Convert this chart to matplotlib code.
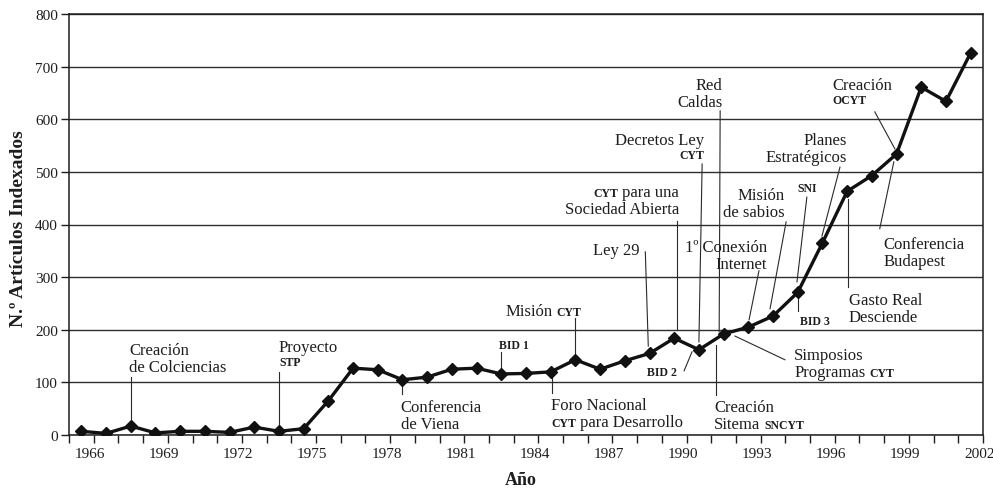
import re
import matplotlib
matplotlib.use("Agg")
import matplotlib.pyplot as plt
from matplotlib.offsetbox import TextArea, HPacker, VPacker, AnnotationBbox

plt.rcParams['font.family'] = ['Liberation Serif', 'DejaVu Serif']

years = list(range(1966, 2003))
articles = [7, 3, 17, 4, 7, 7, 5, 15, 7, 12,
            65, 127, 124, 105, 110, 125, 127, 116, 117, 120,
            143, 125, 141, 155, 184, 162, 192, 205, 226, 271,
            365, 463, 493, 534, 661, 634, 726]
label_years = list(range(1966, 2003, 3))
y_ticks = list(range(0, 801, 100))

# text lines ([..] = small caps), anchor x, anchor y (top), alignment, leader line
notes = [
    (["Creación", "de Colciencias"], 1967.94, 182, 'left', ((1968, 30), (1968, 110))),
    (["Proyecto", "[STP]"], 1974.0, 188, 'left', ((1974, 11), (1974, 120))),
    (["Conferencia", "de Viena"], 1978.93, 74, 'left', ((1979, 78), (1979, 100))),
    (["[BID 1]"], 1982.89, 188, 'left', ((1983, 125), (1983, 158))),
    (["Misión [CYT]"], 1983.17, 257, 'left', ((1986, 152), (1986, 222))),
    (["Foro Nacional", "[CYT] para Desarrollo"], 1985.03, 78, 'left', ((1985.05, 80), (1985.05, 112))),
    (["Ley 29"], 1988.59, 373, 'right', ((1988.83, 348), (1988.95, 169))),
    (["[CYT] para una", "Sociedad Abierta"], 1990.2, 483, 'right', ((1990.1, 407), (1990.1, 202))),
    (["Decretos Ley", "[CYT]"], 1991.21, 582, 'right', ((1991.13, 515), (1991.0, 177))),
    (["Red", "Caldas"], 1991.94, 686, 'right', ((1991.86, 616), (1991.82, 196))),
    (["1º Conexión", "Internet"], 1993.76, 378, 'right', ((1993.43, 312), (1993.03, 219))),
    (["Misión", "de sabios"], 1994.48, 477, 'right', ((1994.53, 405), (1993.88, 240))),
    (["[SNI]"], 1994.97, 487, 'left', ((1995.37, 452), (1994.97, 291))),
    (["Planes", "Estratégicos"], 1996.99, 582, 'right', ((1996.71, 509), (1995.98, 378))),
    (["Creación", "[OCYT]"], 1996.42, 686, 'left', ((1998.12, 614), (1998.93, 544))),
    (["Conferencia", "Budapest"], 1998.48, 384, 'left', ((1998.89, 519), (1998.32, 392))),
    (["Gasto Real", "Desciende"], 1997.07, 277, 'left', ((1997.05, 449), (1997.05, 281))),
    (["[BID 3]"], 1995.09, 234, 'left', ((1995, 262), (1995, 236))),
    (["[BID 2]"], 1988.91, 137, 'left', ((1990.4, 122), (1990.72, 158))),
    (["Simposios", "Programas [CYT]"], 1994.85, 173, 'left', ((1994.48, 143), (1992.46, 188))),
    (["Creación", "Sitema [SNCYT]"], 1991.62, 74, 'left', ((1991.7, 171), (1991.7, 76))),
]

INK = '#1e1e1e'
normal = dict(fontsize=12, color=INK)
small = dict(fontsize=8.5, color=INK, fontweight='bold')


def rich_label(ax, lines, x, y, align):
    rows = []
    for line in lines:
        parts = []
        for seg in re.split(r'(\[[^\]]*\])', line):
            seg = seg.strip()
            if not seg:
                continue
            if seg.startswith('['):
                parts.append(TextArea(seg[1:-1], textprops=small))
            else:
                parts.append(TextArea(seg, textprops=normal))
        rows.append(HPacker(children=parts, align='baseline', pad=0, sep=3))
    box = VPacker(children=rows, align=align, pad=0, sep=0.8)
    ab = AnnotationBbox(box, (x, y - 6), xycoords='data',
                        box_alignment=(0 if align == 'left' else 1, 1),
                        frameon=False, pad=0, annotation_clip=False)
    ax.add_artist(ab)


fig = plt.figure(figsize=(9.93, 4.89), dpi=100)
ax = fig.add_axes([69 / 993, 1 - 436 / 489, 914 / 993, 421 / 489])

ax.set_xlim(1965.5, 2002.5)
ax.set_ylim(0, 800)
ax.set_yticks(y_ticks)
ax.yaxis.grid(True, color='#2e2e2e', lw=1.0)
ax.set_axisbelow(True)

ax.set_xticks([y + 0.35 for y in label_years], [str(y) for y in label_years])
ax.set_xticks([y + 0.5 for y in range(1965, 2003)], minor=True)
ax.tick_params(axis='x', which='major', length=0, pad=9, labelsize=11, labelcolor=INK)
ax.tick_params(axis='x', which='minor', length=6, width=1.0, direction='out', color=INK)
ax.tick_params(axis='y', length=6, width=1.0, pad=2, labelsize=11, labelcolor=INK, color=INK)
for s in ax.spines.values():
    s.set_color(INK)
    s.set_linewidth(1.1)

for lines, x, y, align, ((x0, y0), (x1, y1)) in notes:
    ax.plot([x0, x1], [y0, y1], color='#2a2a2a', lw=0.8, zorder=2)
    rich_label(ax, lines, x, y, align)

ax.plot(years, articles, color='#111111', lw=2.4, marker='D', ms=6, zorder=3)

fig.text(19 / 993, 1 - 229 / 489, 'N.º Artículos Indexados', rotation=90,
         ha='center', va='center', fontsize=14, fontweight='bold', color=INK)
fig.text(521 / 993, 1 - 481 / 489, 'Año', ha='center', va='center',
         fontsize=13, fontweight='bold', color=INK)

fig.savefig('out.png', dpi=100)
